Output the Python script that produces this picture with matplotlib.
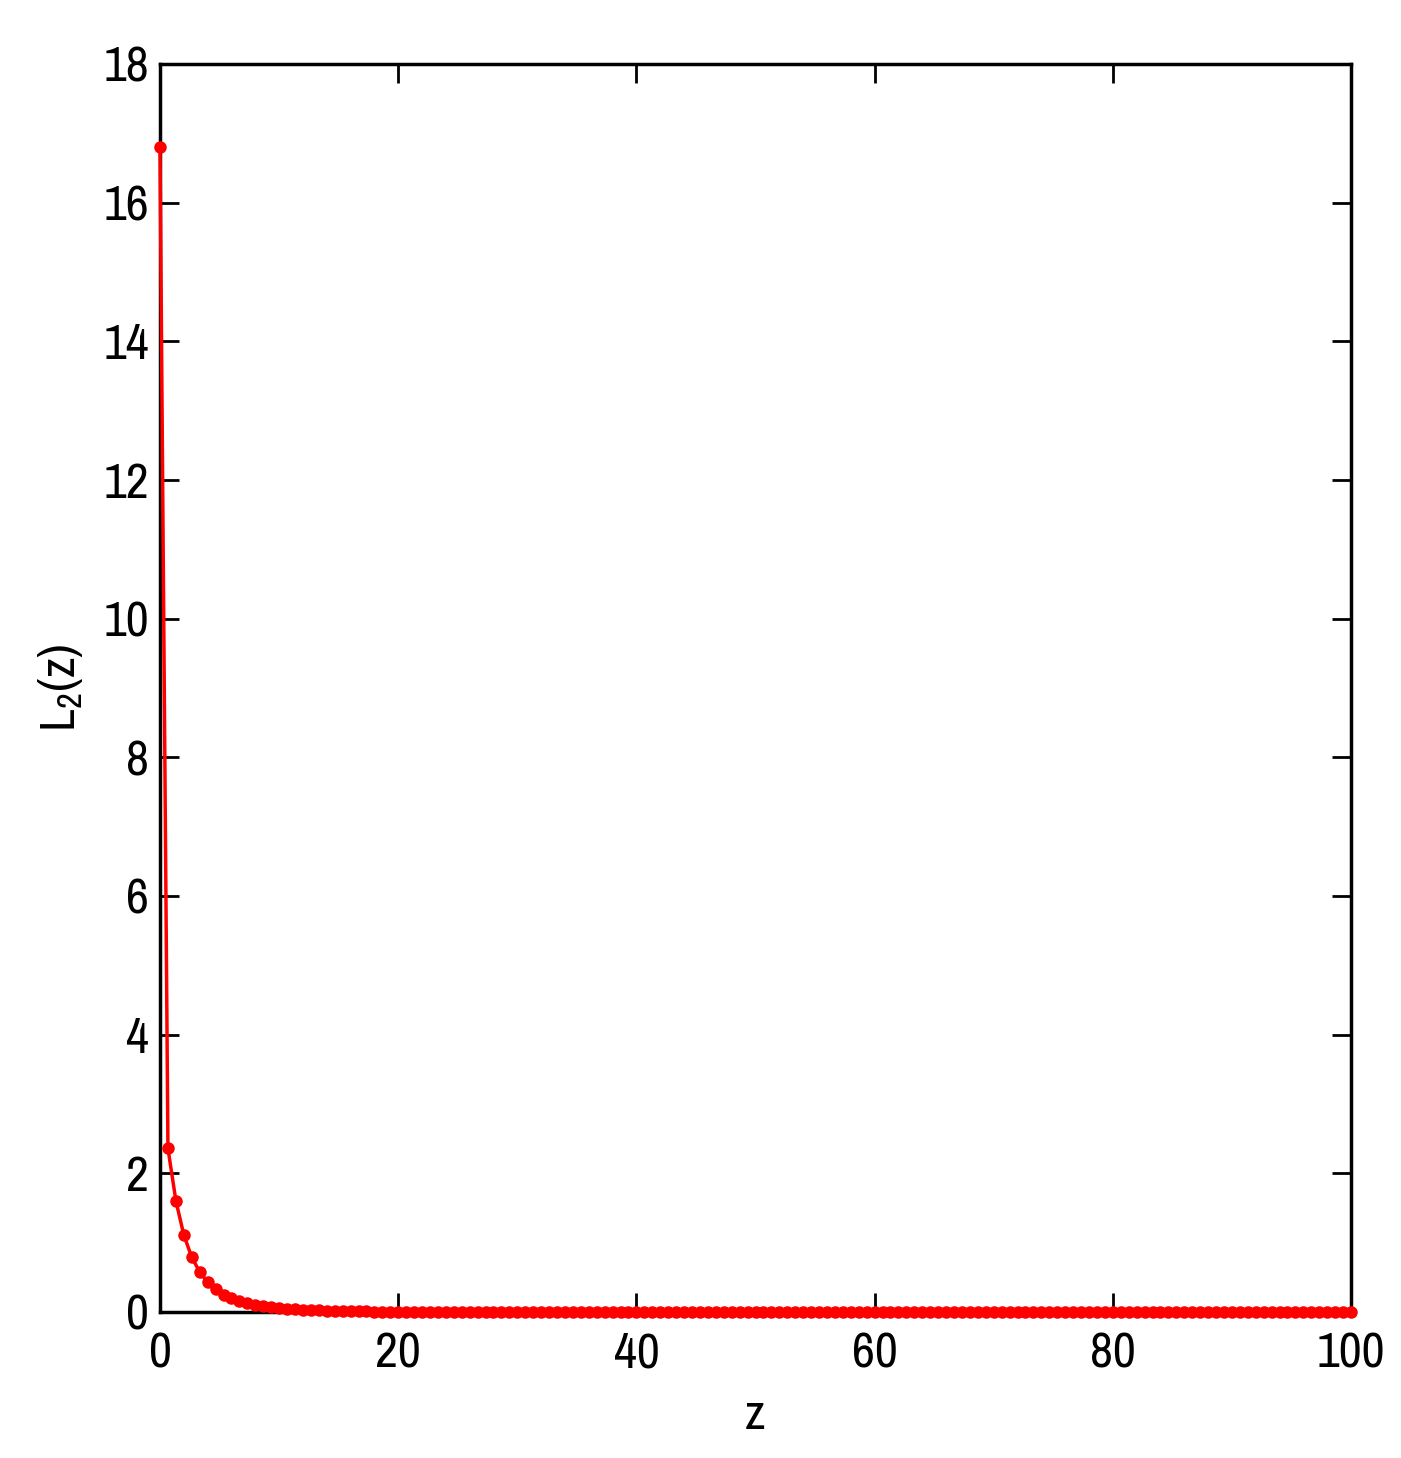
import numpy as np
import matplotlib
matplotlib.use("Agg")
import matplotlib.pyplot as plt
from matplotlib import font_manager

names = {f.name for f in font_manager.fontManager.ttflist}
fam = 'Liberation Sans'
for cand in ['Liberation Sans Narrow', 'Archivo Narrow', 'Barlow Semi Condensed']:
    if cand in names:
        fam = cand
        break
plt.rcParams['font.family'] = [fam, 'DejaVu Sans']
plt.rcParams['mathtext.fontset'] = 'custom'
plt.rcParams['mathtext.rm'] = fam
plt.rcParams['mathtext.it'] = fam

n_points = 151
z = np.linspace(0, 100, n_points)

head = [16.8, 2.36, 1.605, 1.11, 0.79, 0.577, 0.43, 0.327, 0.25, 0.197,
        0.159, 0.13, 0.105, 0.087, 0.072, 0.060, 0.050, 0.042, 0.035, 0.029,
        0.024, 0.020, 0.017, 0.014, 0.012, 0.010, 0.008, 0.007, 0.006, 0.005,
        0.004, 0.003, 0.003, 0.002, 0.002, 0.002, 0.001, 0.001, 0.001, 0.001]
tail = [0.0] * (n_points - len(head))
L2 = head + tail

xticks = [0, 20, 40, 60, 80, 100]
yticks = [0, 2, 4, 6, 8, 10, 12, 14, 16, 18]

fig = plt.figure(figsize=(14.01, 14.58), dpi=100)
ax = fig.add_axes([160/1401, 1 - 1312/1458, (1351-160)/1401, (1312-64)/1458])
ax.plot(z, L2, '-', color='#ff0000', lw=2.5, marker='o', ms=8, mec='#ff0000', mfc='#ff0000', clip_on=False, zorder=3)
ax.set_xlim(0, 100)
ax.set_ylim(0, 18)
ax.set_xticks(xticks)
ax.set_yticks(yticks)
ax.tick_params(direction='in', length=14, width=2, labelsize=36, top=True, right=True)
ax.tick_params(axis='x', pad=14)
ax.tick_params(axis='y', pad=8)
for s in ax.spines.values():
    s.set_linewidth(2.5)
ax.set_xlabel('z', fontsize=36, labelpad=12)
ax.set_ylabel(r'L$_2$(z)', fontsize=36, labelpad=48)
ax.yaxis.set_label_coords(-75/1191, 0.5)
fig.savefig('out.png', dpi=100)
